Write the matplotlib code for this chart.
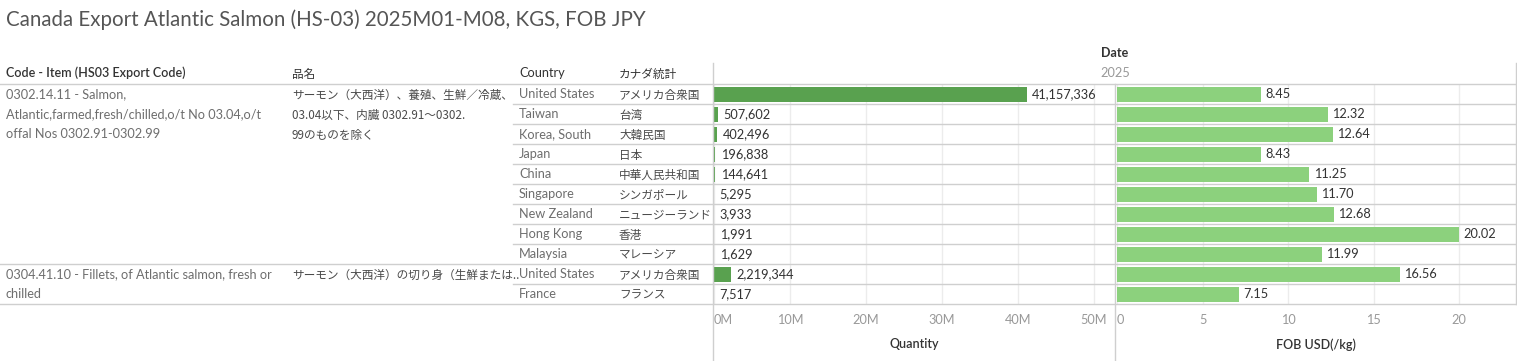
import numpy as np
import matplotlib.pyplot as plt

plt.rcParams['font.family'] = ['Lato', 'Noto Sans CJK JP', 'DejaVu Sans']

# %% data
title = 'Canada Export Atlantic Salmon (HS-03) 2025M01-M08, KGS, FOB JPY'
countries = ['United States', 'Taiwan', 'Korea, South', 'Japan', 'China', 'Singapore',
             'New Zealand', 'Hong Kong', 'Malaysia', 'United States', 'France']
countries_jp = ['アメリカ合衆国', '台湾', '大韓民国', '日本', '中華人民共和国', 'シンガポール',
                'ニュージーランド', '香港', 'マレーシア', 'アメリカ合衆国', 'フランス']
quantity = [41157336, 507602, 402496, 196838, 144641, 5295, 3933, 1991, 1629, 2219344, 7517]
fob = [8.45, 12.32, 12.64, 8.43, 11.25, 11.70, 12.68, 20.02, 11.99, 16.56, 7.15]
group_rows = [9, 2]
group_codes = [['0302.14.11 - Salmon,', 'Atlantic,farmed,fresh/chilled,o/t No 03.04,o/t',
                'offal Nos 0302.91-0302.99'],
               ['0304.41.10 - Fillets, of Atlantic salmon, fresh or', 'chilled']]
group_names = [['サーモン（大西洋）、養殖、生鮮／冷蔵、', '03.04以下、内臓 0302.91～0302.',
                '99のものを除く'],
               ['サーモン（大西洋）の切り身（生鮮または..']]
qty_ticks = [0, 10e6, 20e6, 30e6, 40e6, 50e6]
qty_ticklabels = ['0M', '10M', '20M', '30M', '40M', '50M']
fob_ticks = [0, 5, 10, 15, 20]

# %% layout (pixels)
W, H = 1517, 361
fig = plt.figure(figsize=(W / 100, H / 100), dpi=100)
DARK = '#333333'
GRAY = '#6e6e6e'
JPC = '#4a4a4a'
LINE = '#cfcfcf'
GRID = '#ececec'
FS = 9.2
JFS = 8.4
JP = ['Noto Sans CJK JP', 'DejaVu Sans']

def px(x, y):
    return x / W, 1 - y / H

def txt(x, y, s, **kw):
    kw.setdefault('fontsize', FS)
    kw.setdefault('va', 'center')
    fig.text(*px(x, y), s, **kw)

def jtxt(x, y, s, **kw):
    # CJK glyphs sit a little high, nudge down
    txt(x, y + 1, s, family=JP, fontsize=JFS, **kw)

def hline(x0, x1, y, color=LINE):
    fig.add_artist(plt.Line2D([x0 / W, x1 / W], [1 - y / H, 1 - y / H], color=color, lw=1))

def vline(x, y0, y1, color=LINE):
    fig.add_artist(plt.Line2D([x / W, x / W], [1 - y0 / H, 1 - y1 / H], color=color, lw=1))

top, rowh = 84, 20
n = len(countries)
bottom = top + n * rowh

txt(6, 20, title, fontsize=14.8, color='#555555')
txt(1115, 53, 'Date', ha='center', color=DARK, fontweight='bold', fontsize=9)
txt(1100, 73, '2025', color='#999999')
txt(6, 73, 'Code - Item (HS03 Export Code)', color=DARK, fontweight='semibold', fontsize=9)
jtxt(292, 73, '品名', color=DARK)
txt(519, 73, 'Country', color=DARK)
jtxt(619, 73, 'カナダ統計', color=DARK)

# table lines
hline(0, 1516, top - 0.5)
vline(713, 63, H)
vline(1114.5, top, H)
vline(1515.5, 63, bottom)
start = 0
for g, nr in enumerate(group_rows):
    for i in range(start + 1, start + nr):
        hline(513, 1516, top + i * rowh)
    for j, line in enumerate(group_codes[g]):
        txt(6, top + (start + j) * rowh + 10, line, color=GRAY)
    for j, line in enumerate(group_names[g]):
        jtxt(292, top + (start + j) * rowh + 10, line, color=JPC)
    start += nr
    hline(0, 1516, top + start * rowh)

for i in range(n):
    y = top + i * rowh + 10
    txt(519, y, countries[i], color=GRAY)
    jtxt(619, y, countries_jp[i], color=JPC)

# %% bar panes
def pane(x0, x1):
    ax = fig.add_axes([x0 / W, 1 - bottom / H, (x1 - x0) / W, (bottom - top) / H])
    ax.set_ylim(n - 0.5, -0.5)
    ax.set_yticks([])
    for s in ax.spines.values():
        s.set_visible(False)
    ax.tick_params(axis='x', length=0, colors='#999999', labelsize=FS, pad=7)
    ax.set_axisbelow(True)
    ax.grid(axis='x', color=GRID, lw=1)
    return ax

yy = np.arange(n)
ax1 = pane(714, 1114)
ax1.set_xlim(0, 400 / 7.6e-6)
ax1.barh(yy, quantity, height=0.75, color='#59a14f')
ax1.set_xticks(qty_ticks)
ax1.set_xticklabels(qty_ticklabels)
ax1.get_xticklabels()[0].set_ha('left')
for i, v in enumerate(quantity):
    ax1.annotate(f'{v:,}', (v, i), xytext=(4, 0), textcoords='offset points',
                 va='center', fontsize=FS, color=DARK)
ax1.set_xlabel('Quantity', color=DARK, fontweight='semibold', fontsize=9, labelpad=9)

ax2 = pane(1117, 1515)
ax2.set_xlim(0, 398 / 17.1)
ax2.barh(yy, fob, height=0.75, color='#8cd17d')
ax2.set_xticks(fob_ticks)
ax2.get_xticklabels()[0].set_ha('left')
for i, v in enumerate(fob):
    ax2.annotate(f'{v:.2f}', (v, i), xytext=(3, 0), textcoords='offset points',
                 va='center', fontsize=FS, color=DARK)
ax2.set_xlabel('FOB USD(/kg)', color=DARK, fontweight='semibold', fontsize=9, labelpad=9)

fig.savefig('out.png', dpi=100)
